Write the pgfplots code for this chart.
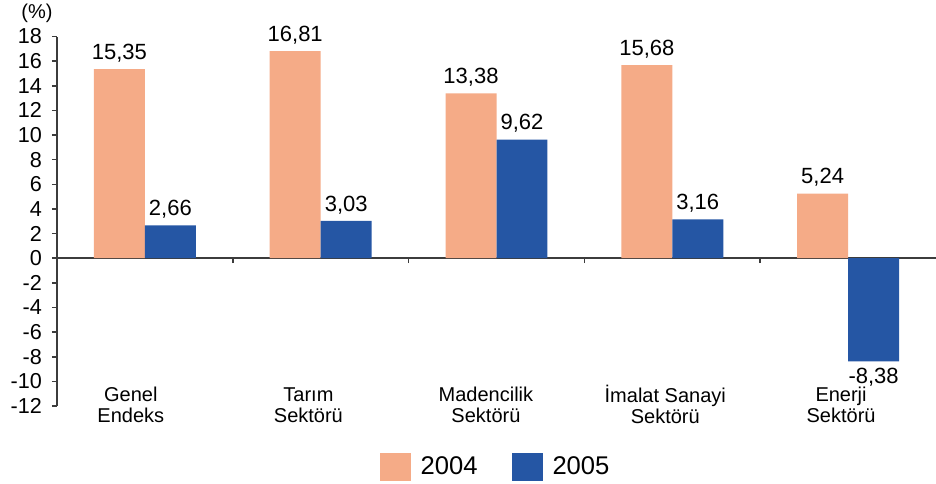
\documentclass[border=0pt]{standalone}
\usepackage{pgfplots}
\pgfplotsset{compat=1.18}
\usepackage{fontspec}
\setmainfont{Liberation Sans}
\definecolor{c04}{RGB}{245,171,135}
\definecolor{c05}{RGB}{37,86,164}
\definecolor{axc}{RGB}{60,60,60}
\begin{document}
\begin{tikzpicture}
\begin{axis}[name=ax, scale only axis, width=439.5pt, height=184.75pt,
  xmin=-0.5, xmax=4.5, ymin=-12, ymax=18,
  axis y line*=left, axis x line*=middle,
  axis line style={axc, line width=0.8pt},
  ytick={-12,-10,...,18},
  xtick={0.5,1.5,2.5,3.5}, xticklabels={},
  tick align=outside, major tick length=2.5pt,
  tick style={axc, line width=0.8pt},
  yticklabel style={font=\fontsize{10.8}{12}\selectfont, xshift=-1.5pt, /pgf/number format/assume math mode=true},
  ybar, bar width=0.29,
  nodes near coords={\pgfmathprintnumber[fixed,fixed zerofill,precision=2,use comma,assume math mode=true]{\pgfplotspointmeta}},
  nodes near coords align=vertical,
  every node near coord/.append style={font=\fontsize{11}{12}\selectfont, black},
  legend style={at={(0.5,-0.165)}, anchor=center, legend columns=2, draw=none,
    font=\fontsize{12.8}{14}\selectfont,
    /tikz/every odd column/.append style={column sep=3pt},
    /tikz/every even column/.append style={column sep=15pt}},
  legend image code/.code={\fill[#1] (0pt,-7pt) rectangle (15.5pt,7pt);},
  clip=false,
]
\addplot[fill=c04, draw=none, bar shift=-0.145] coordinates {(0,15.35) (1,16.81) (2,13.38) (3,15.68) (4,5.24)};
\addplot[fill=c05, draw=none, bar shift=0.145] coordinates {(0,2.66) (1,3.03) (2,9.62) (3,3.16) (4,-8.38)};
\legend{2004,2005}
\begin{scope}[every node/.style={align=center, font=\fontsize{10}{10.5}\selectfont}]
\node at (axis cs:-0.08,-11.9) {Genel\\Endeks};
\node at (axis cs:0.93,-11.9) {Tarım\\Sektörü};
\node at (axis cs:1.94,-11.9) {Madencilik\\Sektörü};
\node at (axis cs:2.96,-11.9) {İmalat Sanayi\\Sektörü};
\node at (axis cs:3.96,-11.9) {Enerji\\Sektörü};
\end{scope}
\end{axis}
\node[font=\fontsize{10}{12}\selectfont] at ([shift={(-10pt,11.5pt)}]ax.north west) {(\%)};
\pgfresetboundingbox
\path[use as bounding box] ([shift={(-28.5pt,18.25pt)}]ax.north west) rectangle ([shift={(439.5pt,-223.25pt)}]ax.north west);
\end{tikzpicture}
\end{document}
